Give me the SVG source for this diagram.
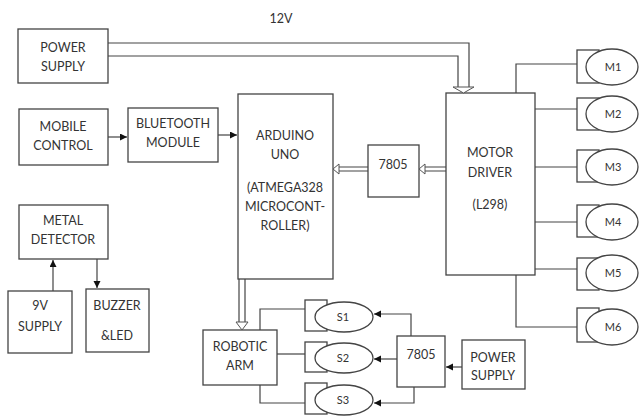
<svg xmlns="http://www.w3.org/2000/svg" width="642" height="419" viewBox="0 0 642 419">
<style>
.b{fill:#fff;stroke:#444;stroke-width:1.3}
.t{font-family:Lato,"Liberation Sans",sans-serif;font-size:12.5px;fill:#333;text-anchor:middle}
.s{font-family:Lato,"Liberation Sans",sans-serif;font-size:11px;fill:#333;text-anchor:middle}
.l{fill:none;stroke:#444;stroke-width:1.2}
.h{fill:#fff;stroke:#555;stroke-width:1}
</style>
<defs>
<marker id="a" markerUnits="userSpaceOnUse" markerWidth="8" markerHeight="8" refX="7" refY="3.5" orient="auto">
<path d="M0,0 L7,3.5 L0,7 z" fill="#111"/>
</marker>
</defs>
<text class="t" x="281" y="23">12V</text>
<g id="power1"><rect class="b" x="18" y="29" width="90" height="54"/><text class="t" x="63" y="52">POWER</text><text class="t" x="63" y="71">SUPPLY</text></g>
<g id="mobile"><rect class="b" x="19" y="109" width="89" height="56"/><text class="t" x="63" y="131">MOBILE</text><text class="t" x="63" y="150">CONTROL</text></g>
<g id="bluetooth"><rect class="b" x="128" y="108" width="90" height="54"/><text class="t" x="173" y="128">BLUETOOTH</text><text class="t" x="173" y="147">MODULE</text></g>
<g id="arduino"><rect class="b" x="238" y="94" width="95" height="185"/><text class="t" x="285" y="140">ARDUINO</text><text class="t" x="285" y="159">UNO</text><text class="t" x="285" y="192">(ATMEGA328</text><text class="t" x="285" y="211">MICROCONT-</text><text class="t" x="285" y="230">ROLLER)</text></g>
<g id="reg1"><rect class="b" x="368" y="145" width="51" height="52"/><text class="t" x="393" y="169">7805</text></g>
<g id="driver"><rect class="b" x="446" y="93" width="89" height="182"/><text class="t" x="490" y="157">MOTOR</text><text class="t" x="490" y="177">DRIVER</text><text class="t" x="490" y="209">(L298)</text></g>
<g id="metal"><rect class="b" x="19" y="205" width="89" height="54"/><text class="t" x="63" y="225">METAL</text><text class="t" x="63" y="244">DETECTOR</text></g>
<g id="supply9"><rect class="b" x="8" y="291" width="64" height="62"/><text class="t" x="40" y="310">9V</text><text class="t" x="40" y="331">SUPPLY</text></g>
<g id="buzzer"><rect class="b" x="86" y="289" width="63" height="63"/><text class="t" x="117" y="310">BUZZER</text><text class="t" x="117" y="340">&amp;LED</text></g>
<g id="arm"><rect class="b" x="203" y="330" width="74" height="55"/><text class="t" x="240" y="351">ROBOTIC</text><text class="t" x="240" y="370">ARM</text></g>
<g id="reg2"><rect class="b" x="397" y="336" width="48" height="51"/><text class="t" x="421" y="359">7805</text></g>
<g id="power2"><rect class="b" x="462" y="340" width="63" height="49"/><text class="t" x="493" y="362">POWER</text><text class="t" x="493" y="380">SUPPLY</text></g>
<g id="m1"><rect class="b" x="577" y="50" width="22" height="33"/><ellipse class="b" cx="612" cy="67" rx="26" ry="18"/><text class="s" x="613" y="71">M1</text></g>
<g id="m2"><rect class="b" x="577" y="98" width="22" height="32"/><ellipse class="b" cx="612" cy="114" rx="26" ry="18"/><text class="s" x="613" y="118">M2</text></g>
<g id="m3"><rect class="b" x="577" y="150" width="22" height="32"/><ellipse class="b" cx="612" cy="167" rx="26" ry="18"/><text class="s" x="613" y="171">M3</text></g>
<g id="m4"><rect class="b" x="577" y="205" width="22" height="32"/><ellipse class="b" cx="612" cy="222" rx="26" ry="18"/><text class="s" x="613" y="226">M4</text></g>
<g id="m5"><rect class="b" x="577" y="258" width="22" height="32"/><ellipse class="b" cx="612" cy="273" rx="26" ry="18"/><text class="s" x="613" y="277">M5</text></g>
<g id="m6"><rect class="b" x="577" y="308" width="22" height="34"/><ellipse class="b" cx="612" cy="327" rx="26" ry="18"/><text class="s" x="613" y="331">M6</text></g>
<g id="s1"><rect class="b" x="305" y="300" width="22" height="31"/><ellipse class="b" cx="344" cy="317" rx="29" ry="15"/><text class="s" x="343" y="321">S1</text></g>
<g id="s2"><rect class="b" x="305" y="342" width="22" height="30"/><ellipse class="b" cx="344" cy="358" rx="29" ry="15"/><text class="s" x="343" y="362">S2</text></g>
<g id="s3"><rect class="b" x="305" y="383" width="22" height="31"/><ellipse class="b" cx="344" cy="400" rx="29" ry="15"/><text class="s" x="343" y="404">S3</text></g>
<g id="connectors">
<path class="l" d="M108,137 H127" marker-end="url(#a)"/>
<path class="l" d="M218,135 H237" marker-end="url(#a)"/>
<path class="l" d="M53,291 V260" marker-end="url(#a)"/>
<path class="l" d="M97,259 V288" marker-end="url(#a)"/>
<path class="l" d="M516,93 V64 H577"/>
<path class="l" d="M535,109 H577"/>
<path class="l" d="M535,167 H577"/>
<path class="l" d="M535,222 H577"/>
<path class="l" d="M535,269 H577"/>
<path class="l" d="M516,275 V327 H577"/>
<path class="l" d="M260,330 V309 H305"/>
<path class="l" d="M277,354 H305"/>
<path class="l" d="M260,385 V403 H305"/>
<path class="l" d="M411,336 V314 H374" marker-end="url(#a)"/>
<path class="l" d="M397,359 H374" marker-end="url(#a)"/>
<path class="l" d="M414,387 V403 H374" marker-end="url(#a)"/>
<path class="l" d="M462,367 H446" marker-end="url(#a)"/>
<path class="l" d="M108,43 H469 V87"/>
<path class="l" d="M108,56 H458 V87"/>
<path class="h" d="M453,87 H474 L463.5,93 z"/>
<path class="l" d="M446,167 H425 M446,171 H425"/>
<path class="h" d="M425,164 V174 L419,169 z"/>
<path class="l" d="M368,167 H339 M368,171 H339"/>
<path class="h" d="M339,164 V174 L333,169 z"/>
<path class="l" d="M239,279 V322 M245,279 V322"/>
<path class="h" d="M236,322 H248 L242,330 z"/>
</g>
</svg>
